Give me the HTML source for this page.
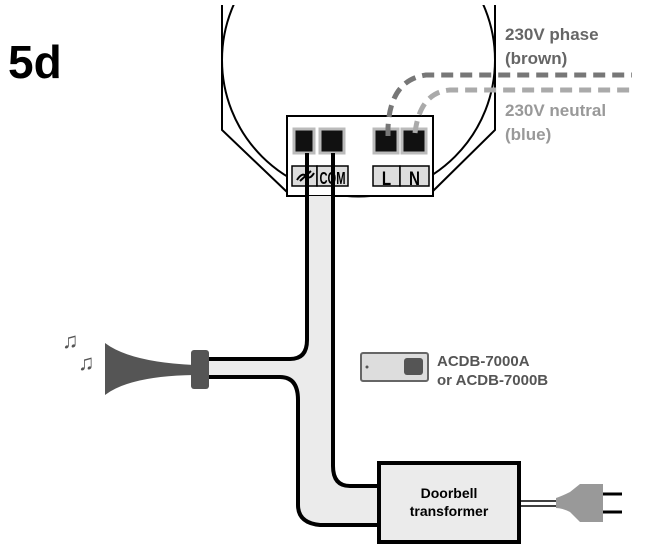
<!DOCTYPE html>
<html><head><meta charset="utf-8"><style>
html,body{margin:0;padding:0;background:#fff;width:652px;height:550px;overflow:hidden}
svg{display:block}
text{font-family:"Liberation Sans",Arial,sans-serif;font-weight:bold}
</style></head><body>
<svg width="652" height="550" viewBox="0 0 652 550">
<defs><clipPath id="c"><rect x="0" y="5" width="652" height="545"/></clipPath></defs>
<g clip-path="url(#c)" fill="none" stroke="#000" stroke-width="2">
<circle cx="358.5" cy="60" r="136.5"/>
<path d="M222 0 V130 L287 192 M495 0 V130 L432 192"/>
</g>
<rect x="287" y="116" width="146" height="80" fill="#fff" stroke="#000" stroke-width="2"/>
<g fill="#111" stroke="#bbb" stroke-width="3">
<rect x="294" y="129" width="20" height="24"/>
<rect x="320" y="129" width="24" height="24"/>
<rect x="374" y="129" width="24" height="24"/>
<rect x="402" y="129" width="24" height="24"/>
</g>
<g fill="#ddd" stroke="#000" stroke-width="1.5">
<rect x="292" y="166" width="25" height="20"/>
<rect x="317" y="166" width="31" height="20"/>
<rect x="373" y="166" width="27" height="20"/>
<rect x="400" y="166" width="29" height="20"/>
</g>
<path d="M297 180 Q302 172 306 176 Q310 180 314 173 M300 181 L311 171" fill="none" stroke="#000" stroke-width="2"/>
<text x="0" y="0" font-size="18" text-anchor="middle" font-weight="normal" transform="translate(332.5,184) scale(0.62,1)">COM</text>
<text x="386.5" y="185" font-size="19" text-anchor="middle" font-weight="normal" transform="translate(386.5,0) scale(0.8,1) translate(-386.5,0)">L</text>
<text x="414.5" y="185" font-size="19" text-anchor="middle" font-weight="normal" transform="translate(414.5,0) scale(0.8,1) translate(-414.5,0)">N</text>
<!-- cable -->
<path d="M307 196 V340 Q307 359 290 359 H208 V377 H280 Q298 377 298 400 V505 Q298 523 320 525 L378 525 V486 L350 486 Q333 486 333 466 V196 Z" fill="#ebebeb" stroke="none"/>
<path d="M307 153 V340 Q307 359 290 359 H208 M208 377 H280 Q298 377 298 400 V505 Q298 523 320 525 L378 525 M378 486 L350 486 Q333 486 333 466 V153" fill="none" stroke="#000" stroke-width="4"/>
<!-- horn -->
<path d="M105 343 Q130 362 194 365 V375 Q130 376 105 395 Z" fill="#555"/>
<rect x="191" y="350" width="18" height="39" rx="3" fill="#555"/>
<text x="62" y="348" font-size="22" fill="#555" font-weight="normal">♫</text>
<text x="78" y="370" font-size="22" fill="#555" font-weight="normal">♫</text>
<!-- transformer -->
<rect x="379" y="463" width="140" height="79" fill="#ebebeb" stroke="#000" stroke-width="4"/>
<text x="449" y="498" font-size="14" text-anchor="middle">Doorbell</text>
<text x="449" y="516" font-size="14" text-anchor="middle">transformer</text>
<path d="M521 501 H556 M521 506 H556" stroke="#000" stroke-width="1.5"/>
<path d="M556 498 Q562 496 570 492 L580 484 H603 V522 H580 L570 512 Q562 508 556 508 Z" fill="#999"/>
<path d="M603 494 H622 M603 512 H622" stroke="#000" stroke-width="3"/>
<!-- ACDB -->
<rect x="361" y="353" width="67" height="28" rx="2" fill="#ddd" stroke="#666" stroke-width="2"/>
<circle cx="367" cy="367" r="1.5" fill="#555"/>
<rect x="404" y="358" width="19" height="17" rx="3" fill="#555"/>
<text x="437" y="366" font-size="15" fill="#555">ACDB-7000A</text>
<text x="437" y="385" font-size="15" fill="#555">or ACDB-7000B</text>
<!-- dashed -->
<path d="M388 136 V128 Q390 80 426 75 H632" fill="none" stroke="#777" stroke-width="5" stroke-dasharray="12 7"/>
<path d="M415 133 Q420 92 450 90 H632" fill="none" stroke="#aaa" stroke-width="5" stroke-dasharray="12 7"/>
<text x="505" y="40" font-size="17" fill="#666">230V phase</text>
<text x="505" y="64" font-size="17" fill="#666">(brown)</text>
<text x="505" y="116" font-size="17" fill="#999">230V neutral</text>
<text x="505" y="140" font-size="17" fill="#999">(blue)</text>
<text x="8" y="78" font-size="46" fill="#000">5d</text>
</svg>
</body></html>
